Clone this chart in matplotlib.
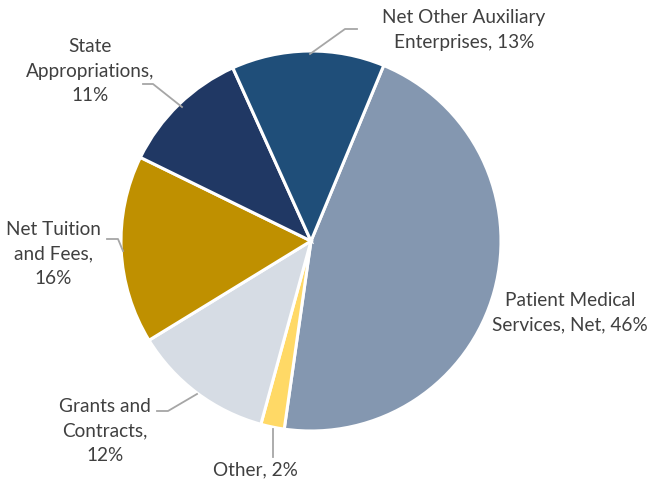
import matplotlib
matplotlib.use("Agg")
import matplotlib.pyplot as plt

categories = ["Patient Medical\nServices, Net", "Other", "Grants and\nContracts",
              "Net Tuition\nand Fees", "State\nAppropriations", "Net Other Auxiliary\nEnterprises"]
values = [46, 2, 12, 16, 11, 13]
colors = ["#8497B0", "#FFD966", "#D6DCE4", "#BF9000", "#203864", "#1F4E79"]

W, H = 651, 485
fig = plt.figure(figsize=(W / 100, H / 100), dpi=100)
ax = fig.add_axes([0, 0, 1, 1])

cx, cy, r = 311, H - 242, 190
ax.pie(values, colors=colors, startangle=67.5, counterclock=False, center=(cx, cy), radius=r,
       wedgeprops=dict(edgecolor="white", linewidth=2.2), frame=True)
ax.set_xlim(0, W)
ax.set_ylim(0, H)
ax.set_aspect("equal")
ax.axis("off")

txt = dict(fontsize=13.7, color="#404040", family=["Lato", "DejaVu Sans"],
           ha="center", va="center", linespacing=1.55)
labels = [f"{c}, {v}%" for c, v in zip(categories, values)]
labels[2] = "Grants and\nContracts,\n12%"
labels[3] = "Net Tuition\nand Fees,\n16%"
labels[4] = "State\nAppropriations,\n11%"
# label positions (pixel coords, y from top)
pos = [(570, 313), (255, 470), (105, 431), (53, 254), (90, 71), (464, 30)]
for lab, (x, y) in zip(labels, pos):
    ax.text(x, H - y, lab, **txt)

lc = dict(color="#A6A6A6", linewidth=1.3)
leaders = [
    [(310, 55), (345, 30), (357, 30)],
    [(143, 85), (153, 85), (182, 108)],
    [(107, 240), (118, 240), (123, 252)],
    [(157, 412), (168, 412), (197, 395)],
    [(273, 430), (273, 458)],
]
for pts in leaders:
    xs = [p[0] for p in pts]
    ys = [H - p[1] for p in pts]
    ax.plot(xs, ys, **lc)

fig.savefig("out.png", dpi=100)
